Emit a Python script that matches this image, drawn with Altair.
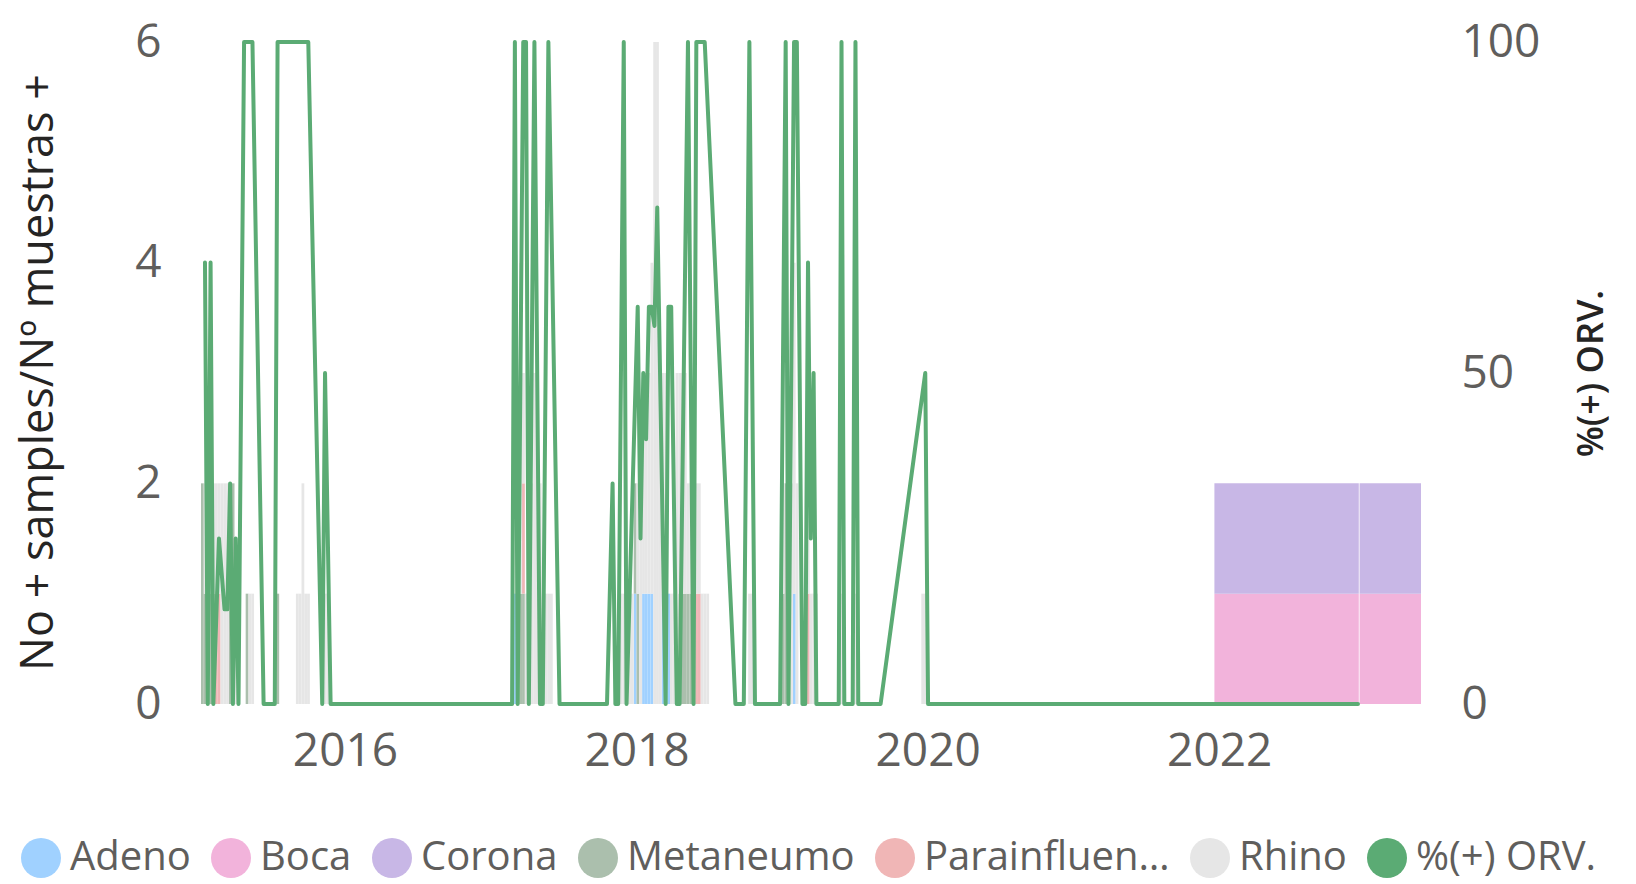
import altair as alt
import pandas as pd

# ---------------- data ----------------
VIRUSES = ["Adeno", "Boca", "Corona", "Metaneumo", "Parainfluenza", "Rhino"]
LINE_NAME = "%(+) ORV."
COLORS = ["#a0d1ff", "#f2b3db", "#c8b7e6", "#abbfad", "#f0b6b6", "#e6e6e6", "#5bab74"]

# weekly positive samples per virus  {ISO week: count}
adeno = {
    "2015-W04": 1, "2017-W09": 1, "2017-W52": 1, "2018-W03": 1, "2018-W04": 1,
    "2018-W05": 1, "2018-W06": 1, "2018-W10": 1, "2018-W11": 1, "2018-W12": 1,
    "2019-W05": 1,
}
boca = {}
corona = {}
metaneumo = {
    "2015-W02": 2, "2015-W03": 1, "2015-W04": 1, "2015-W05": 1, "2015-W06": 1,
    "2015-W12": 1, "2015-W13": 2, "2015-W18": 1, "2015-W29": 1,
    "2017-W10": 1, "2017-W11": 1, "2017-W12": 1, "2017-W52": 1, "2018-W01": 1,
    "2018-W16": 1, "2018-W17": 1, "2018-W18": 1, "2018-W19": 1, "2018-W20": 1,
    "2019-W01": 1, "2019-W02": 2,
}
parainfluenza = {
    "2015-W07": 1, "2015-W08": 1, "2017-W12": 1, "2018-W22": 1, "2018-W23": 1,
    "2019-W10": 1,
}
rhino = {
    "2015-W03": 1, "2015-W05": 1, "2015-W06": 1, "2015-W07": 1, "2015-W08": 1,
    "2015-W09": 2, "2015-W10": 2, "2015-W11": 2, "2015-W12": 1, "2015-W14": 1,
    "2015-W15": 1, "2015-W19": 1, "2015-W20": 1, "2015-W36": 1, "2015-W37": 1,
    "2015-W38": 2, "2015-W39": 1, "2015-W40": 1, "2015-W46": 1, "2015-W47": 1,
    "2017-W11": 3, "2017-W12": 1, "2017-W13": 1, "2017-W14": 1, "2017-W15": 2,
    "2017-W16": 3, "2017-W17": 3, "2017-W18": 2, "2017-W19": 1, "2017-W20": 1,
    "2017-W21": 1, "2017-W22": 1,
    "2017-W47": 1, "2017-W48": 1, "2017-W49": 1, "2017-W50": 1, "2017-W51": 1,
    "2018-W01": 1, "2018-W02": 2, "2018-W03": 2, "2018-W04": 2, "2018-W05": 2,
    "2018-W06": 3, "2018-W07": 6, "2018-W08": 6, "2018-W09": 3, "2018-W10": 2,
    "2018-W11": 2, "2018-W13": 1, "2018-W14": 1, "2018-W15": 3, "2018-W16": 2,
    "2018-W17": 2, "2018-W18": 2, "2018-W19": 1, "2018-W20": 1, "2018-W21": 2,
    "2018-W22": 1, "2018-W23": 1, "2018-W24": 1, "2018-W25": 1, "2018-W26": 1,
    "2018-W41": 1, "2018-W42": 1,
    "2019-W01": 1, "2019-W03": 2, "2019-W04": 2, "2019-W05": 3, "2019-W06": 2,
    "2019-W10": 3, "2019-W11": 1, "2019-W12": 1, "2019-W13": 1, "2019-W22": 1,
    "2019-W27": 1, "2019-W51": 1, "2019-W52": 1,
}
weekly = [adeno, boca, corona, metaneumo, parainfluenza, rhino]

# later, longer reporting periods
period_start = ["2021-12-20", "2022-12-19"]
period_end = ["2022-12-17", "2023-05-22"]
period_boca = [1, 1]
period_corona = [1, 1]

# %(+) ORV. line  (ISO week, percent)
line_weeks = [
    "2015-W03", "2015-W04", "2015-W05", "2015-W06", "2015-W08", "2015-W10",
    "2015-W11", "2015-W12", "2015-W13", "2015-W14", "2015-W15", "2015-W17",
    "2015-W20", "2015-W24", "2015-W28", "2015-W29", "2015-W40", "2015-W45",
    "2015-W46", "2015-W48",
    "2017-W08", "2017-W09", "2017-W10", "2017-W12", "2017-W13", "2017-W14",
    "2017-W16", "2017-W18", "2017-W19", "2017-W21", "2017-W25", "2017-W42",
    "2017-W44", "2017-W45", "2017-W46", "2017-W48", "2017-W49",
    "2018-W01", "2018-W02", "2018-W03", "2018-W04", "2018-W05", "2018-W06",
    "2018-W07", "2018-W08", "2018-W11", "2018-W12", "2018-W13", "2018-W15",
    "2018-W16", "2018-W19", "2018-W21", "2018-W22", "2018-W25", "2018-W36",
    "2018-W39", "2018-W41", "2018-W43", "2018-W52",
    "2019-W02", "2019-W03", "2019-W05", "2019-W06", "2019-W08", "2019-W09",
    "2019-W10", "2019-W11", "2019-W12", "2019-W13", "2019-W21", "2019-W22",
    "2019-W23", "2019-W26", "2019-W27", "2019-W28", "2019-W36", "2019-W52",
    "2020-W01", "2022-W50",
]
line_pct = [
    66.7, 0, 66.7, 0, 25, 14.3,
    14.3, 33.3, 0, 25, 0, 100,
    100, 0, 0, 100, 100, 0,
    50, 0,
    0, 100, 0, 100, 100, 0,
    100, 0, 0, 100, 0, 0,
    33.3, 0, 0, 100, 0,
    60, 25, 50, 40, 60, 60,
    57.1, 75, 0, 60, 60, 0,
    0, 100, 0, 100, 100, 0,
    0, 100, 0, 0,
    100, 0, 100, 100, 0, 0,
    66.7, 25, 50, 0, 0, 100,
    0, 0, 100, 0, 0, 50,
    0, 0,
]

year_ticks = [2016, 2018, 2020, 2022]
left_ticks = [0, 2, 4, 6]
right_ticks = [0, 50, 100]


def iso_week(s):
    return pd.to_datetime(s + "-1", format="%G-W%V-%u")


# ---------------- tables ----------------
rows = []
for i, (name, counts) in enumerate(zip(VIRUSES, weekly)):
    for wk, n in counts.items():
        start = iso_week(wk)
        rows.append({"start": start, "end": start + pd.Timedelta(days=7),
                     "virus": name, "count": n, "ord": i})
for s, e, b, c in zip(period_start, period_end, period_boca, period_corona):
    rows.append({"start": pd.Timestamp(s), "end": pd.Timestamp(e),
                 "virus": "Boca", "count": b, "ord": 1})
    rows.append({"start": pd.Timestamp(s), "end": pd.Timestamp(e),
                 "virus": "Corona", "count": c, "ord": 2})
bars_df = pd.DataFrame(rows)

line_df = pd.DataFrame({
    "date": [iso_week(w) + pd.Timedelta(days=3) for w in line_weeks],
    "pct": line_pct,
})

# ---------------- chart ----------------
FONT = "Open Sans"
LABEL_COLOR = "#605e5c"
TITLE_COLOR = "#252423"

x_scale = alt.Scale(domain=[alt.DateTime(year=2015, month=1, date=5),
                            alt.DateTime(year=2023, month=5, date=22)])
x_axis = alt.Axis(values=[alt.DateTime(year=y, month=1, date=1) for y in year_ticks],
                  format="%Y", labelFontSize=46, labelColor=LABEL_COLOR,
                  labelPadding=25, labelFont=FONT, grid=False, domain=False, ticks=False)

bars = alt.Chart(bars_df).transform_stack(
    stack="count", groupby=["start"], as_=["y0", "y1"],
    sort=[alt.SortField("ord", order="ascending")],
).mark_bar().encode(
    x=alt.X("start:T", scale=x_scale, axis=x_axis, title=""),
    x2="end:T",
    y=alt.Y("y0:Q", scale=alt.Scale(domain=[0, 6], nice=False),
            axis=alt.Axis(values=left_ticks, labelFontSize=46, labelColor=LABEL_COLOR,
                          labelPadding=40, labelFont=FONT, grid=False, domain=False,
                          ticks=False,
                          title="No + samples/Nº muestras +", titleFontSize=45,
                          titleColor=TITLE_COLOR, titleFont=FONT, titleFontWeight="normal",
                          titleAngle=270, titleAlign="center", titleBaseline="middle",
                          titleX=-163, titleY=330)),
    y2="y1:Q",
    color=alt.Color("virus:N",
                    scale=alt.Scale(domain=VIRUSES + [LINE_NAME], range=COLORS),
                    legend=alt.Legend(title=None, orient="none", direction="horizontal",
                                      legendX=-180, legendY=796, symbolType="circle",
                                      symbolSize=1600, symbolStrokeWidth=0,
                                      labelFontSize=40, labelColor=LABEL_COLOR,
                                      labelFont=FONT, labelOffset=9, columnPadding=20,
                                      labelLimit=248, padding=0, columns=7)),
)

line = alt.Chart(line_df).mark_line(
    color="#5bab74", strokeWidth=4, strokeCap="round", strokeJoin="round"
).encode(
    x=alt.X("date:T", scale=x_scale, axis=x_axis, title=""),
    y=alt.Y("pct:Q", scale=alt.Scale(domain=[0, 100], nice=False),
            axis=alt.Axis(orient="right", values=right_ticks, labelFontSize=46,
                          labelColor=LABEL_COLOR, labelPadding=40, labelFont=FONT,
                          grid=False, domain=False, ticks=False,
                          title=LINE_NAME, titleFontSize=36, titleColor=TITLE_COLOR,
                          titleFont=FONT, titleFontWeight=600, titleAngle=270,
                          titleAlign="center", titleBaseline="middle",
                          titleX=170, titleY=331)),
)

chart = alt.layer(bars, line).resolve_scale(y="independent").properties(
    width=1220, height=662, autosize="none",
    padding={"left": 193, "top": 34, "right": 207, "bottom": 176},
).configure(
    font=FONT,
    axis=alt.AxisConfig(grid=False, domain=False, ticks=False, tickSize=0),
    view=alt.ViewConfig(strokeWidth=0),
)

chart.save("out.html", embed_options={"renderer": "svg", "actions": False})
